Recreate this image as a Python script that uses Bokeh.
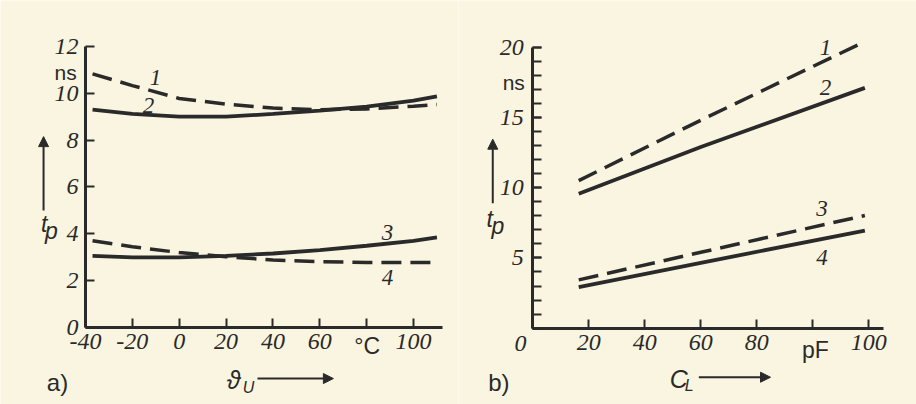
from bokeh.plotting import figure
from bokeh.layouts import row
from bokeh.models import Label, Arrow, NormalHead, FixedTicker
from bokeh.embed import file_html
from bokeh.resources import INLINE

BG = "#faf5e0"
INK = "#2a2a2a"
NUM_FONT = "Liberation Sans Narrow"
TXT_FONT = "Liberation Sans"

# ---------------- panel a) t_p vs ambient temperature ----------------
temp_c = [-37, -20, 0, 20, 40, 60, 80, 100, 110]
a_curve1 = [10.83, 10.33, 9.78, 9.54, 9.37, 9.30, 9.33, 9.45, 9.52]   # dashed
a_curve2 = [9.30, 9.12, 9.00, 9.00, 9.12, 9.26, 9.43, 9.69, 9.87]     # solid
a_curve3 = [3.06, 2.99, 2.99, 3.06, 3.16, 3.30, 3.49, 3.70, 3.85]     # solid
a_curve4 = [3.70, 3.45, 3.20, 3.02, 2.88, 2.81, 2.78, 2.78, 2.78]     # dashed
a_xticks = [-40, -20, 0, 20, 40, 60, 80, 100]
a_xlabels = {-40: "-40", -20: "-20", 0: "0", 20: "20", 40: "40", 60: "60", 80: "", 100: "100"}
a_yticks = [0, 2, 4, 6, 8, 10, 12]
a_xbounds = (-40, 112.3)
a_ybounds = (0, 12)

# ---------------- panel b) t_p vs load capacitance ----------------
cl_pf = [16.4, 60, 118.6]
b_curve1 = [10.50, 14.80, 20.40]   # dashed
b_curve2 = [9.56, 12.90, 17.10]    # solid
b_curve3 = [3.44, 5.40, 8.02]      # dashed
b_curve4 = [2.92, 4.65, 6.95]      # solid
b_xticks = [0, 20, 40, 60, 80, 100, 120]
b_xlabels = {0: "", 20: "20", 40: "40", 60: "60", 80: "80", 100: "", 120: "100"}
b_yticks = [0, 5, 10, 15, 20]
b_yminor = list(range(0, 21))
b_ylabels = {0: "", 5: "5", 10: "10", 15: "15", 20: "20"}
b_xbounds = (0, 125.1)
b_ybounds = (0, 20)


def make_fig(width, xr, yr):
    p = figure(width=width, height=404, x_range=xr, y_range=yr,
               output_backend="svg", toolbar_location=None,
               min_border=0, min_border_left=0, min_border_right=0,
               min_border_top=0, min_border_bottom=0,
               background_fill_color=BG, border_fill_color=BG, outline_line_color=None)
    p.grid.visible = False
    for ax in (p.xaxis, p.yaxis):
        ax.axis_line_width = 3
        ax.axis_line_color = INK
        ax.major_tick_line_color = INK
        ax.major_tick_line_width = 2
        ax.major_tick_in = 9
        ax.major_tick_out = 0
        ax.minor_tick_line_color = INK
        ax.minor_tick_line_width = 2
        ax.minor_tick_in = 9
        ax.minor_tick_out = 0
        ax.major_label_text_font = NUM_FONT
        ax.major_label_text_font_style = "italic"
        ax.major_label_text_font_size = "24px"
        ax.major_label_text_color = INK
    p.xaxis.major_label_standoff = 7
    p.yaxis.major_label_standoff = 7
    return p


def lab(p, x, y, text, size="23px", italic=True, font=TXT_FONT):
    p.add_layout(Label(x=x, y=y, text=text, text_font=font,
                       text_font_style="italic" if italic else "normal",
                       text_font_size=size, text_color=INK,
                       text_align="center", text_baseline="middle"))


def arrow(p, x0, y0, x1, y1):
    p.add_layout(Arrow(x_start=x0, y_start=y0, x_end=x1, y_end=y1,
                       line_color=INK, line_width=2,
                       end=NormalHead(size=10, fill_color=INK, line_color=INK)))


SOLID_W = 3.8
DASH_W = 3.5
DASH = "20 9"

# ---------------- panel a ----------------
p1 = make_fig(458, (-76.28, 119.2), (-3.288, 13.962))
p1.xaxis.fixed_location = 0
p1.yaxis.fixed_location = -40
p1.xaxis.bounds = a_xbounds
p1.yaxis.bounds = a_ybounds
p1.xaxis.ticker = FixedTicker(ticks=a_xticks, minor_ticks=[])
p1.xaxis.major_label_overrides = a_xlabels
p1.yaxis.ticker = FixedTicker(ticks=a_yticks, minor_ticks=[])

p1.line(temp_c, a_curve1, line_color=INK, line_width=DASH_W, line_dash=DASH)
p1.line(temp_c, a_curve2, line_color=INK, line_width=SOLID_W)
p1.line(temp_c, a_curve3, line_color=INK, line_width=SOLID_W)
p1.line(temp_c, a_curve4, line_color=INK, line_width=DASH_W, line_dash=DASH)

lab(p1, -10.1, 10.67, "1", font=NUM_FONT)
lab(p1, -13.1, 9.48, "2", font=NUM_FONT)
lab(p1, 88.9, 4.06, "3", font=NUM_FONT)
lab(p1, 88.9, 2.13, "4", font=NUM_FONT)
lab(p1, -48.5, 10.89, "ns", size="21px", italic=False)
lab(p1, 80.2, -0.77, "°C", size="23px", italic=False)
lab(p1, -57.6, 4.42, "t", size="23px")
lab(p1, -54.6, 4.12, "p", size="23px")
arrow(p1, -57.9, 5.0, -57.9, 8.15)
lab(p1, 23.2, -2.26, "ϑ", size="25px")
lab(p1, 29.6, -2.56, "U", size="16px")
arrow(p1, 33.4, -2.18, 65.8, -2.18)
lab(p1, -51.95, -2.35, "a)", size="24px", italic=False)

# ---------------- panel b ----------------
p2 = make_fig(458, (-26.54, 137.04), (-5.431, 23.32))
p2.xaxis.fixed_location = 0
p2.yaxis.fixed_location = 0
p2.xaxis.bounds = b_xbounds
p2.yaxis.bounds = b_ybounds
p2.xaxis.ticker = FixedTicker(ticks=b_xticks, minor_ticks=[])
p2.xaxis.major_label_overrides = b_xlabels
p2.yaxis.ticker = FixedTicker(ticks=b_yticks, minor_ticks=b_yminor)
p2.yaxis.major_label_overrides = b_ylabels
p2.yaxis.major_label_standoff = 9

p2.line(cl_pf, b_curve1, line_color=INK, line_width=DASH_W, line_dash=DASH)
p2.line(cl_pf, b_curve2, line_color=INK, line_width=SOLID_W)
p2.line(cl_pf, b_curve3, line_color=INK, line_width=DASH_W, line_dash=DASH)
p2.line(cl_pf, b_curve4, line_color=INK, line_width=SOLID_W)

lab(p2, 104.5, 20.0, "1", font=NUM_FONT)
lab(p2, 104.5, 17.15, "2", font=NUM_FONT)
lab(p2, 103.3, 8.5, "3", font=NUM_FONT)
lab(p2, 103.3, 5.05, "4", font=NUM_FONT)
lab(p2, -6.8, 17.5, "ns", size="21px", italic=False)
lab(p2, -4.4, -1.1, "0", size="24px", font=NUM_FONT)
lab(p2, 100.9, -1.58, "pF", size="23px", italic=False)
lab(p2, -15.4, 7.75, "t", size="23px")
lab(p2, -12.5, 7.3, "p", size="23px")
arrow(p2, -14.3, 8.9, -14.3, 13.45)
lab(p2, 52.1, -3.6, "C", size="25px")
lab(p2, 55.9, -4.08, "L", size="16px")
arrow(p2, 59.3, -3.49, 84.9, -3.49)
lab(p2, -12.1, -3.84, "b)", size="24px", italic=False)

layout = row(p1, p2)
open("out.html", "w").write(file_html(layout, INLINE))
